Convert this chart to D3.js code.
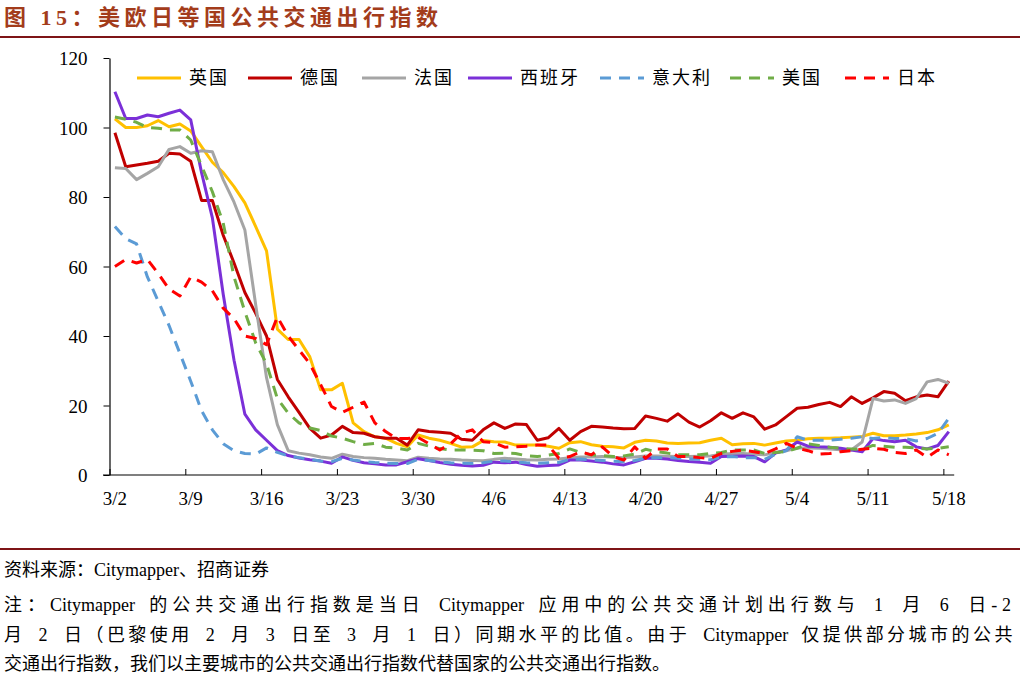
<!DOCTYPE html>
<html><head><meta charset="utf-8">
<script src="https://cdn.jsdelivr.net/npm/d3@7/dist/d3.min.js"></script>
<style>
html,body{margin:0;padding:0;background:#fff;}
svg{display:block;}
.cjk{font-family:"Liberation Serif","Noto Sans CJK SC",serif;}
.num{font-family:"Liberation Serif","Times New Roman",serif;}
</style></head>
<body>
<svg id="chart" width="1024" height="677"></svg>
<script>
// ---------- DATA ----------
const tickLabels = ["3/2","3/9","3/16","3/23","3/30","4/6","4/13","4/20","4/27","5/4","5/11","5/18"];
const yTicks = [0,20,40,60,80,100,120];
const seriesNames = ["英国","德国","法国","西班牙","意大利","美国","日本"];

const uk = [102.5,100,100,100.5,102,100.2,101,99,94.5,90,87,83,78.3,71.5,64.5,42,39,39,34,24.5,24.5,26.4,15,12.5,11,10.6,9.1,8.1,11.5,10.6,10,9.1,8,8.1,9.9,9.6,9.5,8.6,8.6,8.6,8.3,7.7,9.3,9.6,8.7,8.3,8.1,7.8,9.4,10,9.8,9.2,9.1,9.2,9.3,10,10.6,8.7,9,9.1,8.6,9.2,9.8,10,10.4,10.6,10.6,10.7,10.9,11.1,12,11.3,11.3,11.5,11.8,12.2,13,14.4];
const germany = [98.5,88.7,89.2,89.7,90.3,92.6,92.4,90.3,79,79,69,61,52.5,46.5,40,27.5,22.5,18,13.4,10.6,11.5,14,12.2,12,11,10.6,10.6,8.6,13,12.5,12.3,12,10.3,10,13,15,13.4,14.7,14.5,10,10.7,13.4,10,12.5,14,13.8,13.5,13.3,13.4,17,16.3,15.5,17.6,15.2,13.8,15.6,17.9,16.3,17.9,16.7,13.2,14.4,16.8,19.2,19.5,20.3,20.9,19.7,22.5,20.6,22.2,24,23.5,21.4,22.5,23,22.5,27];
const france = [88.4,88.2,85,86.8,88.7,93.7,94.5,92.6,93.3,93,85,78.5,70.5,49,28,14.5,7,6.3,5.8,5.2,4.8,6,5.3,5,4.8,4.5,4.3,4.1,5.1,4.8,4.6,4.5,4.3,4.2,4.1,4.5,4.8,4.6,4.4,4.3,4.5,4.6,5,5.2,5.2,5.3,5.1,5,5.2,5.5,5.5,5.4,5.3,5.3,5.4,5.5,6,6.2,6.2,6,5.8,6.5,7,7.8,7.8,7.7,7.5,7.3,7.2,9.5,22,21.3,21.6,20.6,22,26.8,27.5,26.4];
const spain = [110.3,102.6,102.6,103.6,103.1,104.1,105,102.2,87,74,52,33,17.5,13,10,7,5.6,4.9,4.4,4,3.4,5.2,4.2,3.5,3.2,2.9,2.9,3.8,4.7,4.2,3.6,3.1,2.8,2.6,2.8,3.7,3.5,3.7,3,2.5,2.7,2.9,4.3,4.3,4,3.7,3.2,2.9,3.8,4.8,4.8,4.6,4.2,3.9,3.7,3.4,5.3,5.4,5.5,5.3,3.8,6.3,7.2,9.5,8.3,8.1,8,7.7,7.2,6.7,10.5,9.9,9.6,10,8.1,7.5,8.5,12.5];
const italy = [71.5,68,66.5,57,50,43,35,27,18.5,13,9,7,6.2,6,7.8,6.5,5.5,5,4.5,4,3.8,4.8,4.3,3.9,3.6,3.4,3.3,3.3,4.5,4.2,3.8,3.5,3.4,3.3,3.5,4,4,3.8,3.5,3.4,3.5,3.6,4.5,4.6,4.4,4.2,4,3.8,4.2,4.8,5,5,4.8,4.6,4.5,4.4,5.2,5.3,5,5,4.5,6,7,11,10,10,10,10.3,10.6,11,10.5,10.8,10.5,10.5,9.8,10.5,12,16.3];
const usa = [103,102.4,101.5,100,99.8,99.3,99.3,96.4,89,81.5,72.5,57,47,38,32,22,17.8,15,13.5,12.8,11.2,10.6,9.6,8.8,9.1,8,7.7,7.2,9.1,8.3,7.6,7.2,7.2,7.1,7,6.2,6.3,6.2,5.5,5.3,5.7,6.2,7.5,6.5,5.8,5.6,5.3,5.5,6,7.4,6.7,6.3,5.8,5.8,5.8,6.2,6.5,7.2,7.2,7.2,6.2,6.5,6.8,7.7,9,8.5,8,7.7,7.5,7.3,8.5,8.3,8,8,7.8,7.5,7.7,8.1];
const japan = [60,62,61,62,58,53.5,51.5,57,55.5,53,48,45,40,39.3,37.5,45.5,40,36,32,26,19.7,18,19.5,21,15,12.5,10.5,10.5,10.8,9,7.2,9,12,13,9.6,9.3,8,8.1,8.3,8.6,8.6,4.8,5.3,6.7,5.8,8.1,5.3,4.3,8.1,4.8,7.5,7.5,5.3,5.3,5,4.8,6.2,6.8,7.2,6.7,6.2,7.5,9.1,7.7,7,6,6.2,6.7,7,7.4,7.7,7.4,6.5,6.2,7.2,5.1,7.2,5.8];

const seriesColors = ["#FFC000","#C00000","#A5A5A5","#7B30D8","#5B9BD5","#70AD47","#FF0000"];
const seriesDashed = [false,false,false,false,true,true,true];
const seriesValues = [uk,germany,france,spain,italy,usa,japan];

// ---------- CHART ----------
const svg = d3.select("#chart");
const nDays = uk.length;               // 78 days, 3/2 .. 5/18
const x = d3.scaleLinear().domain([0, nDays]).range([109.5, 954.2]);
const y = d3.scaleLinear().domain([0, 120]).range([475, 58]);

// Title
svg.append("text").attr("class","cjk").attr("x",4).attr("y",25)
  .attr("font-size",22).attr("font-weight","bold").attr("fill","#A33C1B")
  .attr("letter-spacing",4.5)
  .text("图 15：美欧日等国公共交通出行指数");
svg.append("line").attr("x1",0).attr("x2",1020).attr("y1",37).attr("y2",37)
  .attr("stroke","#7E1416").attr("stroke-width",2);

// Y axis
const yAxis = d3.axisLeft(y).tickValues(yTicks).tickSize(6).tickSizeOuter(0).tickPadding(16);
const gy = svg.append("g").attr("transform","translate(109.5,0)").call(yAxis);
gy.select(".domain").attr("stroke","#000").attr("stroke-width",1.2);
gy.selectAll(".tick line").attr("stroke","#000");
gy.selectAll(".tick text").attr("class","num").attr("font-size",19).attr("fill","#000").attr("dy","0.35em");

// X axis
const tickDays = tickLabels.map((_, i) => i * 7);
const xAxis = d3.axisBottom(x).tickValues(tickDays).tickSize(-6).tickSizeOuter(0).tickFormat("");
const gx = svg.append("g").attr("transform","translate(0,475)").call(xAxis);
gx.select(".domain").attr("stroke","#000").attr("stroke-width",1.2).attr("d","M103,0H954.2");
gx.selectAll(".tick line").attr("stroke","#000");
svg.append("g").selectAll("text").data(tickLabels).join("text")
  .attr("class","num").attr("font-size",19).attr("fill","#000")
  .attr("text-anchor","middle")
  .attr("x",(d,i)=>x(tickDays[i] + 0.5)).attr("y",505)
  .text(d=>d);

// Lines
const line = d3.line().x((d,i)=>x(i + 0.5)).y(d=>y(d));
svg.append("g").selectAll("path").data(d3.range(seriesValues.length)).join("path")
  .attr("d", k => line(seriesValues[k]))
  .attr("fill","none")
  .attr("stroke", k => seriesColors[k])
  .attr("stroke-width",3)
  .attr("stroke-linejoin","round")
  .attr("stroke-dasharray", k => seriesDashed[k] ? "11,8" : null);

// Legend
const legendX = [137,248,362,468,600,730,845];
const leg = svg.append("g");
seriesNames.forEach((name,k)=>{
  leg.append("line").attr("x1",legendX[k]).attr("x2",legendX[k]+44)
    .attr("y1",78).attr("y2",78).attr("stroke",seriesColors[k]).attr("stroke-width",3)
    .attr("stroke-dasharray", seriesDashed[k] ? "11,8" : null);
  leg.append("text").attr("class","cjk").attr("x",legendX[k]+52).attr("y",78)
    .attr("dy","0.35em").attr("font-size",18).attr("letter-spacing",2).attr("fill","#000").text(name);
});

// Footer
svg.append("line").attr("x1",0).attr("x2",1020).attr("y1",549).attr("y2",549)
  .attr("stroke","#7E1416").attr("stroke-width",2);
const foot = [
  {t:"资料来源：Citymapper、招商证券", y:576, w:null},
  {t:"注：Citymapper 的公共交通出行指数是当日 Citymapper 应用中的公共交通计划出行数与 1 月 6 日-2", y:611, w:1012},
  {t:"月 2 日（巴黎使用 2 月 3 日至 3 月 1 日）同期水平的比值。由于 Citymapper 仅提供部分城市的公共", y:641, w:1012},
  {t:"交通出行指数，我们以主要城市的公共交通出行指数代替国家的公共交通出行指数。", y:670, w:null}
];
foot.forEach(f=>{
  const t = svg.append("text").attr("class","cjk").attr("x",4).attr("y",f.y)
    .attr("font-size",18).attr("fill","#000");
  if (!f.w) { t.text(f.t); return; }
  // split into runs: Latin words (no extra spacing) and other characters (spaced)
  const runs = f.t.match(/[A-Za-z]+|[^A-Za-z]+/g);
  const spans = runs.map(r => ({r, latin:/^[A-Za-z]+$/.test(r), el:t.append("tspan").text(r)}));
  const natural = t.node().getComputedTextLength();
  const nSpaces = (f.t.match(/ /g) || []).length;
  let extra = f.w - natural;
  const ws = Math.min(5, extra / Math.max(nSpaces,1));
  t.attr("word-spacing", ws);
  extra -= ws * nSpaces;
  const spacedChars = spans.filter(s=>!s.latin).reduce((a,s)=>a + s.r.length, 0);
  const ls = extra > 0 ? extra / spacedChars : 0;
  spans.forEach(s => s.el.attr("letter-spacing", s.latin ? 0 : ls));
});
</script>
</body></html>
